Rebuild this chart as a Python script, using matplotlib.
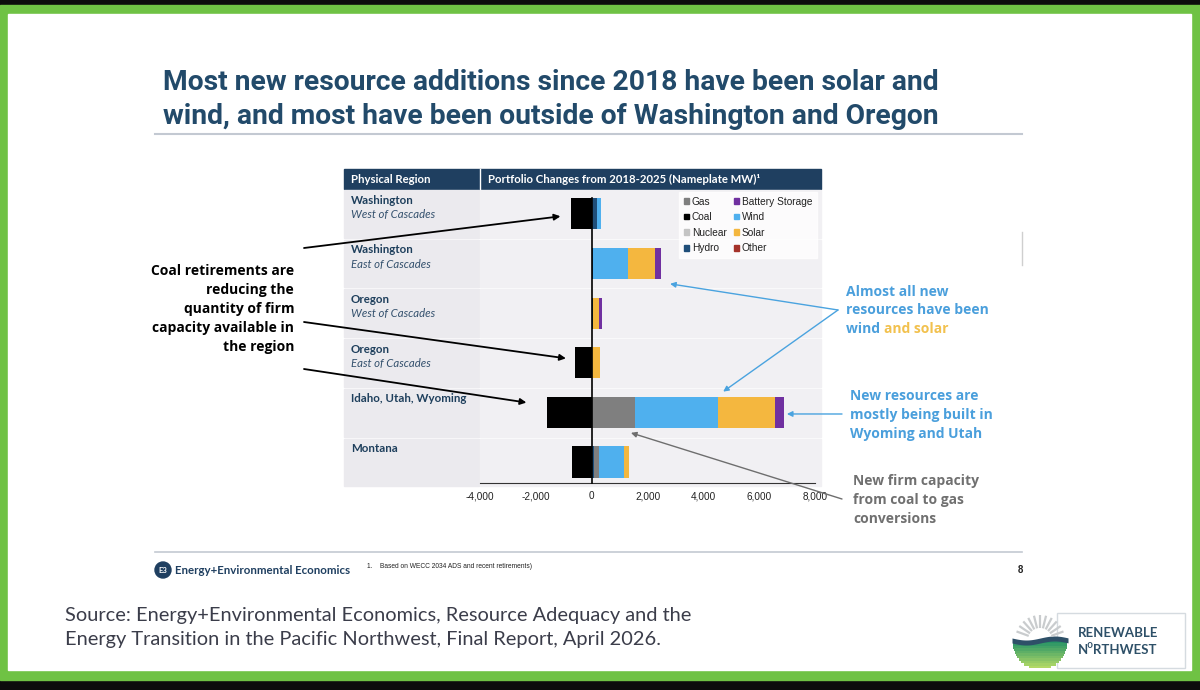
import numpy as np
import matplotlib
matplotlib.use("Agg")
import matplotlib.pyplot as plt
from matplotlib.patches import Rectangle, Patch, Circle
from matplotlib.ticker import FuncFormatter

# donnees (MW nameplate, 2018-2025)
regions = ["Washington", "Washington", "Oregon", "Oregon", "Idaho, Utah, Wyoming", "Montana"]
subregions = ["West of Cascades", "East of Cascades", "West of Cascades", "East of Cascades", "", ""]
coal = [-730, 0, 0, -590, -1600, -700]
hydro = [170, 60, 60, 0, 0, 80]
gas = [0, 0, 0, 0, 1550, 180]
nuclear = [0, 0, 0, 0, 0, 0]
wind = [160, 1220, 0, 0, 2950, 880]
solar = [0, 980, 200, 310, 2060, 190]
battery = [0, 200, 90, 0, 300, 0]
other = [0, 0, 0, 0, 0, 0]
xticks = [-4000, -2000, 0, 2000, 4000, 6000, 8000]

colors = {
    "Gas": "#7f7f7f", "Coal": "#000000", "Nuclear": "#c4c4c4", "Hydro": "#1f4e79",
    "Battery Storage": "#7030a0", "Wind": "#4fb0ee", "Solar": "#f4b73f", "Other": "#a5322a",
}

NAVY = "#224a6a"
BLUE_TXT = "#4a9fdc"
W, H = 1200, 690

fig = plt.figure(figsize=(12, 6.9), dpi=100, facecolor="#0c0c0c")
bg = fig.add_axes([0, 0, 1, 1])
bg.set_xlim(0, W)
bg.set_ylim(H, 0)
bg.axis("off")

# cadre vert + diapo blanche
bg.add_patch(Rectangle((0, 5), W, 675, color="#6fc244", zorder=0))
bg.add_patch(Rectangle((8, 14), 1183, 656, color="white", zorder=0))

# titre
title_lines = ["Most new resource additions since 2018 have been solar and",
               "wind, and most have been outside of Washington and Oregon"]
for i, t in enumerate(title_lines):
    bg.text(163, 83 + i * 34, t, fontsize=20.3, fontweight="bold", family="Roboto",
            color=NAVY, ha="left", va="center")
bg.plot([155, 1022], [134, 134], color="#c3c9d2", lw=1.5)
bg.plot([1022, 1022], [232, 265], color="#cfcfcf", lw=1)

# tableau : entete + lignes
tab_l, tab_m, tab_r = 344, 480, 821
head_t, head_b = 169, 189
row_h = 49.7
bg.add_patch(Rectangle((tab_l, head_t), tab_r - tab_l, head_b - head_t, color="#1f3f60", zorder=1))
bg.plot([tab_m, tab_m], [head_t, head_b], color="white", lw=1, zorder=2)
bg.text(351, 179.5, "Physical Region", fontsize=8.2, fontweight="bold", color="white",
        family="Lato", va="center", zorder=3)
bg.text(488, 179.5, "Portfolio Changes from 2018-2025 (Nameplate MW)\u00b9", fontsize=8.2,
        fontweight="bold", color="white", family="Lato", va="center", zorder=3)
for i, (r, s) in enumerate(zip(regions, subregions)):
    top = head_b + i * row_h
    bg.add_patch(Rectangle((tab_l, top + 1), tab_m - tab_l - 1, row_h - 2, color="#ebeaee", zorder=1))
    bg.add_patch(Rectangle((tab_m, top + 1), tab_r - tab_m, row_h - 2, color="#f1f0f3", zorder=1))
    bg.text(351, top + 11, r, fontsize=8.3, fontweight="bold", color="#1e3f5c", family="Lato",
            va="center", zorder=3)
    if s:
        bg.text(351, top + 25.5, s, fontsize=8.2, style="italic", color="#34516e", family="Lato",
                va="center", zorder=3)

# graphique en barres empilees
ax = fig.add_axes([480 / W, 1 - 483 / H, 341 / W, 294 / H])
ax.set_facecolor("none")
y = np.arange(len(regions))
bh = 0.63
ax.barh(y, coal, height=bh, color=colors["Coal"], zorder=3)
left = np.zeros(len(regions))
for name, vals in [("Hydro", hydro), ("Gas", gas), ("Nuclear", nuclear), ("Wind", wind),
                   ("Solar", solar), ("Battery Storage", battery), ("Other", other)]:
    ax.barh(y, vals, left=left, height=bh, color=colors[name], zorder=3)
    left = left + np.array(vals)
ax.set_xlim(-4000, 8200)
ax.set_ylim(5.42, -0.5)
ax.plot([0, 0], [-bh / 2, 5.42], color="black", lw=1.2, zorder=4, clip_on=False)
for sp in ["top", "left", "right"]:
    ax.spines[sp].set_visible(False)
ax.spines["bottom"].set_bounds(-4000, 8000)
ax.spines["bottom"].set_color("#333333")
ax.set_yticks([])
ax.set_xticks(xticks)
ax.xaxis.set_major_formatter(FuncFormatter(lambda v, p: f"{v:,.0f}"))
ax.tick_params(axis="x", length=0, pad=6, labelsize=7.2, labelcolor="#222222")
for lab in ax.get_xticklabels():
    lab.set_family("Liberation Sans")

order = ["Gas", "Coal", "Nuclear", "Hydro", "Battery Storage", "Wind", "Solar", "Other"]
handles = [Patch(color=colors[k], label=k) for k in order]
leg = ax.legend(handles=handles, ncol=2, loc="upper right", bbox_to_anchor=(817, 192),
                bbox_transform=bg.transData, fontsize=7.3, frameon=True, fancybox=False,
                handlelength=0.5, handleheight=0.5, handletextpad=0.3, labelspacing=0.55,
                columnspacing=0.7, borderpad=0.45, borderaxespad=0)
leg.get_frame().set_facecolor("white")
leg.get_frame().set_edgecolor("white")
for t in leg.get_texts():
    t.set_family("Liberation Sans")
    t.set_color("#222222")

# annotations gauche (retraits charbon)
FNT = "Open Sans"
coal_lines = ["Coal retirements are", "reducing the", "quantity of firm",
              "capacity available in", "the region"]
for i, t in enumerate(coal_lines):
    bg.text(294, 271 + i * 19, t, fontsize=10, fontweight="bold", family=FNT,
            color="black", ha="right", va="center")
black_arrow = dict(arrowstyle="-|>", color="black", lw=1.3, mutation_scale=9, shrinkA=0, shrinkB=0)
for (sx, sy), idx, dy in [((304, 248), 0, 0.05), ((304, 322), 3, -0.09), ((304, 369), 4, -0.2)]:
    ax.annotate("", xy=(coal[idx] - 0.4 * abs(coal[idx]) - 100, idx + dy), xycoords="data",
                xytext=(sx, sy), textcoords=bg.transData, arrowprops=black_arrow,
                annotation_clip=False)

# annotations droite
blue_arrow = dict(arrowstyle="-|>", color="#4aa3df", lw=1, mutation_scale=8, shrinkA=0, shrinkB=0)
tot = [h + g + n + w + s + b + o for h, g, n, w, s, b, o in
       zip(hydro, gas, nuclear, wind, solar, battery, other)]
ax.annotate("", xy=(tot[1] + 340, 1.41), xytext=(838, 310), textcoords=bg.transData,
            arrowprops=blue_arrow, annotation_clip=False)
ax.annotate("", xy=(hydro[4] + gas[4] + wind[4] + 200, 3.58), xytext=(838, 310),
            textcoords=bg.transData, arrowprops=blue_arrow, annotation_clip=False)
ax.annotate("", xy=(tot[4] + 120, 4.03), xytext=(842, 414), textcoords=bg.transData,
            arrowprops=blue_arrow, annotation_clip=False)
ax.annotate("", xy=(gas[4] - 150, 4.41), xytext=(842, 499), textcoords=bg.transData,
            arrowprops=dict(arrowstyle="-|>", color="#6e6e6e", lw=1, mutation_scale=8,
                            shrinkA=0, shrinkB=0), annotation_clip=False)

rkw = dict(fontsize=10, fontweight="bold", family=FNT, va="center", ha="left")
bg.text(846, 292, "Almost all new", color=BLUE_TXT, **rkw)
bg.text(846, 310, "resources have been", color=BLUE_TXT, **rkw)
t1 = bg.text(846, 329, "wind ", color=BLUE_TXT, **rkw)
bg.annotate("and solar", xy=(1, 0), xycoords=t1, va="bottom", ha="left", color="#f2c14e",
            fontsize=10, fontweight="bold", family=FNT)
for i, t in enumerate(["New resources are", "mostly being built in", "Wyoming and Utah"]):
    bg.text(850, 396 + i * 19, t, color=BLUE_TXT, **rkw)
for i, t in enumerate(["New firm capacity", "from coal to gas", "conversions"]):
    bg.text(853, 481 + i * 19, t, color="#707070", **rkw)

# pied de page
bg.plot([155, 1022], [552, 552], color="#c3c9d2", lw=1.2)
bg.add_patch(Circle((163, 570), 8, color="#1f3f60"))
bg.text(163, 570.5, "E3", fontsize=5.5, fontweight="bold", color="white", ha="center",
        va="center", family="Lato")
bg.text(175, 570, "Energy+Environmental Economics", fontsize=8.3, color="#1f3f60",
        family="Lato", fontweight="bold", va="center")
bg.text(367, 566, "1.    Based on WECC 2034 ADS and recent retirements)", fontsize=4.8,
        color="#222222", family="Liberation Sans", va="center")
bg.text(1020, 570, "8", fontsize=7, fontweight="bold", color="#222222", ha="center",
        va="center", family="Liberation Sans")

src = ["Source: Energy+Environmental Economics, Resource Adequacy and the",
       "Energy Transition in the Pacific Northwest, Final Report, April 2026."]
for i, t in enumerate(src):
    bg.text(65, 615 + i * 24, t, fontsize=14.4, color="#3b3d4a", family="Lato",
            va="center")

# logo Renewable Northwest
bg.add_patch(Rectangle((1057, 613), 128, 55, facecolor="white", edgecolor="#d5dbe0", lw=1))
for a in np.linspace(20, 160, 11):
    r0, r1 = 12, 25
    ca, sa = np.cos(np.radians(a)), -np.sin(np.radians(a))
    bg.plot([1040 + r0 * ca, 1040 + r1 * ca], [640 + r0 * sa, 640 + r1 * sa],
            color="#c9ccce", lw=1.6, solid_capstyle="butt")
bowl = np.linspace(0, 1, 12)
for k, f in enumerate(bowl[:-1]):
    yy = 641 + f * 27
    half = np.sqrt(max(27 ** 2 - (f * 27) ** 2, 0))
    bg.add_patch(Rectangle((1040 - half, yy), 2 * half, 27 / 11 + 0.3,
                           color=plt.cm.summer(0.15 + 0.6 * f), lw=0))
xs = np.linspace(1012, 1068, 40)
bg.fill_between(xs, 638 + 2 * np.sin((xs - 1012) / 9), 643 + 2 * np.sin((xs - 1012) / 9),
                color="#2e5068", lw=0)
bg.text(1078, 633, "RENEWABLE", fontsize=9.5, fontweight="bold", color="#2e5068",
        family="Lato", va="center")
bg.text(1078, 650, "N\u1d3cRTHWEST", fontsize=9.5, fontweight="bold", color="#2e5068",
        family=["Lato", "DejaVu Sans"], va="center")

fig.savefig("out.png", dpi=100, facecolor=fig.get_facecolor())
